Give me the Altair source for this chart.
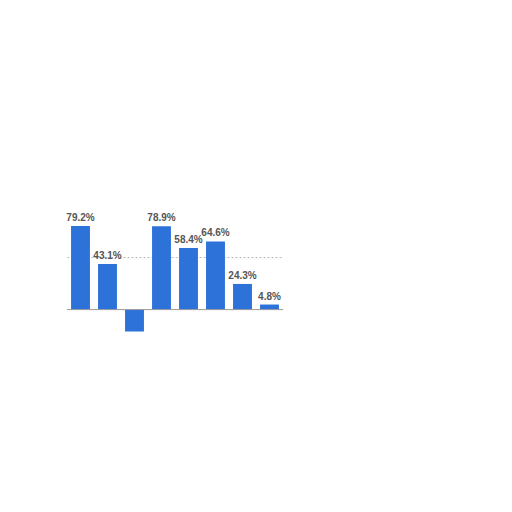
import altair as alt
import pandas as pd

categories = ["A", "B", "C", "D", "E", "F", "G", "H"]
values = [79.2, 43.1, -20.8, 78.9, 58.4, 64.6, 24.3, 4.8]
labels = ["79.2%", "43.1%", "", "78.9%", "58.4%", "64.6%", "24.3%", "4.8%"]

df = pd.DataFrame({"cat": categories, "val": values, "lab": labels})

x = alt.X("cat:N", sort=categories, axis=None,
          scale=alt.Scale(paddingInner=0.3, paddingOuter=0.15))
y = alt.Y("val:Q", scale=alt.Scale(domain=[-25, 100], nice=False, zero=True),
          axis=alt.Axis(values=[50], labels=False, ticks=False, domain=False,
                        grid=True, gridDash=[2, 2], gridColor="#bbbbbb", title=None))

bars = alt.Chart(df).mark_bar(color="#2d72d9").encode(x=x, y=y)

text = alt.Chart(df).mark_text(
    baseline="bottom", dy=-3, fontWeight="bold", fontSize=10,
    font="Liberation Sans", color="#555555"
).encode(x=x, y=y, text="lab:N")

base = alt.Chart(pd.DataFrame({"v": [0]})).mark_rule(color="#999999", strokeWidth=1).encode(
    y=alt.Y("v:Q", scale=alt.Scale(domain=[-25, 100], nice=False)))

chart = alt.layer(bars, base, text).properties(
    width=216, height=132,
    padding={"left": 58, "top": 196, "right": 5, "bottom": 5}
).configure_view(stroke=None)

chart.save("out.html", embed_options={"renderer": "svg", "actions": False})
